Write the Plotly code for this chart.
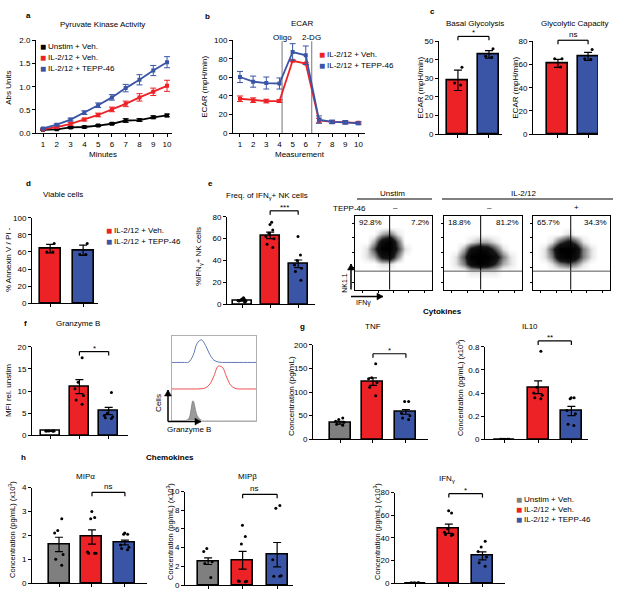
import plotly.graph_objects as go

W, H = 617, 596
RED = '#ec2227'
BLUE = '#3a55a5'
GREY = '#7f7f7f'
FONT = 'Liberation Sans, Arial, sans-serif'
FS = 8

# ---- a: pyruvate kinase activity
minutes = [1, 2, 3, 4, 5, 6, 7, 8, 9, 10]
pk_unstim = [0.07, 0.08, 0.12, 0.13, 0.16, 0.20, 0.27, 0.28, 0.34, 0.38]
pk_unstim_sem = [0.01, 0.01, 0.02, 0.02, 0.02, 0.02, 0.04, 0.03, 0.03, 0.03]
pk_veh = [0.08, 0.13, 0.20, 0.29, 0.39, 0.51, 0.63, 0.77, 0.89, 1.02]
pk_veh_sem = [0.01, 0.02, 0.03, 0.03, 0.04, 0.05, 0.06, 0.08, 0.08, 0.12]
pk_tepp = [0.10, 0.18, 0.29, 0.44, 0.60, 0.77, 0.97, 1.15, 1.35, 1.53]
pk_tepp_sem = [0.01, 0.02, 0.03, 0.04, 0.05, 0.06, 0.08, 0.11, 0.11, 0.12]

# ---- b: ECAR trace
measurement = [1, 2, 3, 4, 5, 6, 7, 8, 9, 10]
ecar_veh = [37, 35.5, 34.5, 34.5, 78, 75, 13.5, 12, 11.5, 11]
ecar_veh_sem = [3, 2.5, 2, 1.5, 1, 1, 2.5, 1.5, 1, 1]
ecar_tepp = [60.5, 55.5, 54, 53.5, 87.5, 84, 14.5, 12, 11.5, 10.5]
ecar_tepp_sem = [6, 6, 6.5, 6, 9, 10, 4, 2, 2, 1.5]
injections = [4.2, 6.45]
injection_names = ['Oligo', '2-DG']

# ---- c: basal glycolysis / glycolytic capacity
basal_mean = [29, 43]
basal_sem = [5.5, 2]
basal_pts = [[36, 26.5, 27.5], [46, 42, 41.5]]
capacity_mean = [61, 67]
capacity_sem = [3.5, 3.5]
capacity_pts = [[65, 58, 65], [73, 65, 64.5]]

# ---- d: viable cells
viable_mean = [64, 62]
viable_sem = [5, 6]
viable_pts = [[70, 60, 60], [70, 57, 57]]

# ---- e: IFNg+ frequency
ifng_freq_mean = [3.5, 63, 37]
ifng_freq_sem = [0.6, 3, 3.5]
ifng_freq_pts = [[2, 3, 3.5, 4, 4.5, 5, 6, 3],
                 [75, 73, 68, 65, 62, 60, 55, 52],
                 [62, 45, 40, 36, 33, 30, 22]]

# ---- e: flow plots (binned density, rows bottom -> top)
flow_unstim = [
    [0, 0, 0, 0, 0, 0, 0, 0, 0, 0],
    [0, 0, 0, 0, 0, 0, 0, 0, 0, 0],
    [0, 0, 0, 0, 0, 0, 0, 0, 0, 0],
    [0, 0, 0, 1, 1, 0, 0, 0, 0, 0],
    [0, 1, 2, 6, 7, 3, 0, 0, 0, 0],
    [0, 1, 4, 9, 9, 5, 1, 0, 0, 0],
    [0, 0, 2, 7, 9, 4, 0, 0, 0, 0],
    [0, 0, 0, 2, 3, 1, 0, 0, 0, 0],
    [0, 0, 0, 0, 0, 0, 0, 0, 0, 0],
    [0, 0, 0, 0, 0, 0, 0, 0, 0, 0],
]
flow_veh = [
    [0, 0, 0, 0, 0, 0, 0, 0, 0, 0],
    [0, 0, 0, 0, 0, 0, 0, 0, 0, 0],
    [0, 0, 0, 1, 1, 1, 1, 0, 0, 0],
    [0, 1, 3, 7, 9, 8, 5, 2, 1, 0],
    [0, 1, 4, 9, 9, 9, 7, 3, 1, 0],
    [0, 0, 2, 6, 8, 7, 4, 1, 0, 0],
    [0, 0, 0, 1, 2, 2, 1, 0, 0, 0],
    [0, 0, 0, 0, 0, 0, 0, 0, 0, 0],
    [0, 0, 0, 0, 0, 0, 0, 0, 0, 0],
    [0, 0, 0, 0, 0, 0, 0, 0, 0, 0],
]
flow_tepp = [
    [0, 0, 0, 0, 0, 0, 0, 0, 0, 0],
    [0, 0, 0, 0, 0, 0, 0, 0, 0, 0],
    [0, 0, 0, 0, 0, 0, 0, 0, 0, 0],
    [0, 0, 1, 3, 4, 3, 1, 0, 0, 0],
    [0, 1, 3, 8, 9, 7, 3, 1, 0, 0],
    [0, 1, 4, 9, 9, 8, 3, 1, 0, 0],
    [0, 0, 1, 4, 6, 4, 1, 0, 0, 0],
    [0, 0, 0, 0, 1, 0, 0, 0, 0, 0],
    [0, 0, 0, 0, 0, 0, 0, 0, 0, 0],
    [0, 0, 0, 0, 0, 0, 0, 0, 0, 0],
]
flow_pct = [('92.8%', '7.2%'), ('18.8%', '81.2%'), ('65.7%', '34.3%')]
flow_gate_x = [4.0, 4.2, 4.4]
flow_gate_y = 2.0
tepp_signs = ['\u2013', '\u2013', '+']

# ---- f: granzyme B
gzmb_mean = [1, 11, 5.5]
gzmb_sem = [0.1, 1.6, 0.8]
gzmb_pts = [[1, 1, 1, 1, 1, 1], [17.5, 12, 10.5, 9, 8, 7], [9.7, 5, 4.5, 4, 3.8, 4.2]]
gzmb_bins = [0, 0.5, 1, 1.5, 2, 2.5, 3, 3.5, 4, 4.5, 5, 5.5, 6, 6.5, 7, 7.5, 8, 8.5, 9, 9.5, 10]
hist_tepp = [0, 0, 0, 0, 0.02, 0.3, 0.85, 1.0, 0.75, 0.35, 0.1, 0.02, 0, 0, 0, 0, 0, 0, 0, 0, 0]
hist_veh = [0, 0, 0, 0, 0, 0, 0, 0.01, 0.05, 0.2, 0.55, 0.95, 0.9, 0.5, 0.15, 0.03, 0, 0, 0, 0, 0]
hist_unstim = [0, 0, 0, 0, 0.1, 1.0, 0.25, 0.02, 0, 0, 0, 0, 0, 0, 0, 0, 0, 0, 0, 0, 0]

# ---- g: cytokines
tnf_mean = [35, 122, 58]
tnf_sem = [3, 8, 5]
tnf_pts = [[45, 42, 38, 36, 32, 30], [160, 130, 128, 120, 110, 92], [80, 80, 55, 50, 45, 42]]
il10_mean = [0, 0.45, 0.245]
il10_sem = [0, 0.055, 0.04]
il10_pts = [[0, 0, 0, 0, 0, 0, 0], [0.76, 0.45, 0.40, 0.36, 0.35, 0.38],
            [0.36, 0.36, 0.35, 0.22, 0.13, 0.12, 0.25]]

# ---- h: chemokines
mipa_mean = [1.62, 1.93, 1.7]
mipa_sem = [0.3, 0.3, 0.1]
mipa_pts = [[2.7, 2.2, 2.1, 1.2, 1.0, 0.75], [3.0, 2.75, 2.7, 1.3, 1.25, 1.25, 1.25],
            [2.1, 2.05, 2.05, 1.6, 1.4, 1.45, 1.5]]
mipb_mean = [2.55, 2.65, 3.25]
mipb_sem = [0.35, 0.95, 1.3]
mipb_pts = [[3.9, 3.6, 2.5, 2.3, 0.8], [6.4, 5.2, 4.4, 0.4, 0.35, 0.4, 0.45],
            [8.5, 8.2, 2.7, 0.95, 1.0, 0.95]]
ifng_mean = [0, 48, 24]
ifng_sem = [0, 4, 3.5]
ifng_pts = [[0, 0, 0, 0, 0, 0, 0], [64, 62, 45, 43, 42, 43, 48], [37, 32, 28, 23, 18, 15]]

fig = go.Figure()
layout = dict(width=W, height=H, margin=dict(l=0, r=0, t=0, b=0),
              paper_bgcolor='white', plot_bgcolor='white',
              font=dict(family=FONT, size=FS, color='black'), showlegend=False)
annotations = []
shapes = []
PANELS = {}

AX = dict(showline=True, linecolor='black', linewidth=1, ticks='outside', ticklen=3,
          tickwidth=1, tickcolor='black', showgrid=False, zeroline=False,
          tickfont=dict(size=FS, color='black'))


def names(n):
    s = '' if n == 1 else str(n)
    return 'x' + s, 'y' + s


def setup(n, box, xr, yr, xopt=None, yopt=None):
    l, r, t, b = box
    xa, ya = names(n)
    xd = dict(AX, domain=[l / W, r / W], range=xr, anchor=ya)
    yd = dict(AX, domain=[1 - b / H, 1 - t / H], range=yr, anchor=xa)
    xd.update(xopt or {})
    yd.update(yopt or {})
    layout['xaxis' + xa[1:]] = xd
    layout['yaxis' + ya[1:]] = yd
    PANELS[n] = (xr, yr, box)


def dx(n, v):
    xr = PANELS[n][0]
    return (v - xr[0]) / (xr[1] - xr[0])


def dy(n, v):
    yr = PANELS[n][1]
    return (v - yr[0]) / (yr[1] - yr[0])


def dom_ref(n):
    xa, ya = names(n)
    return xa + ' domain', ya + ' domain'


def text(x, y, s, size=FS, bold=False, angle=0, anchor='center', color='black'):
    if bold:
        s = '<b>' + s + '</b>'
    annotations.append(dict(x=x / W, y=1 - y / H, xref='paper', yref='paper', text=s,
                            showarrow=False, textangle=angle, xanchor=anchor, yanchor='middle',
                            font=dict(size=size, color=color, family=FONT)))


def hline_px(x0, x1, y, color='black', width=1):
    shapes.append(dict(type='line', xref='paper', yref='paper', x0=x0 / W, x1=x1 / W,
                       y0=1 - y / H, y1=1 - y / H, line=dict(color=color, width=width)))


def legend_item(x, y, color, label):
    text(x, y, '\u25A0', size=10, anchor='left', color=color)
    text(x + 8, y, label, size=FS, anchor='left')


def arrow_px(x0, y0, x1, y1):
    # shaft plus a small filled head, in page pixels
    shapes.append(dict(type='line', xref='paper', yref='paper', x0=x0 / W, y0=1 - y0 / H,
                       x1=x1 / W, y1=1 - y1 / H, line=dict(color='black', width=1.5)))
    if x0 == x1:
        s = -1 if y1 < y0 else 1
        pts = [(x1 - 3.5, y1 - s * 6), (x1 + 3.5, y1 - s * 6), (x1, y1)]
    else:
        s = 1 if x1 > x0 else -1
        pts = [(x1 - s * 6, y1 - 3.5), (x1 - s * 6, y1 + 3.5), (x1, y1)]
    path = 'M ' + ' L '.join(f'{px / W},{1 - py / H}' for px, py in pts) + ' Z'
    shapes.append(dict(type='path', xref='paper', yref='paper', path=path,
                       fillcolor='black', line=dict(color='black', width=0.5)))


def bracket(n, i0, i1, level, label, drop_px=4):
    xr_, yr_ = dom_ref(n)
    box = PANELS[n][2]
    drop = drop_px / (box[3] - box[2])
    x0, x1, y = dx(n, i0), dx(n, i1), dy(n, level)
    for seg in [(x0, y - drop, x0, y), (x0, y, x1, y), (x1, y, x1, y - drop)]:
        shapes.append(dict(type='line', xref=xr_, yref=yr_, x0=seg[0], y0=seg[1],
                           x1=seg[2], y1=seg[3], line=dict(color='black', width=1.2)))
    annotations.append(dict(x=(x0 + x1) / 2, y=y, xref=xr_, yref=yr_, text=label,
                            showarrow=False, yanchor='bottom', yshift=-3 if '*' in label else -1,
                            font=dict(size=FS, color='black')))


def bar_panel(n, means, sems, fills, pts, bar_px=21):
    xa, ya = names(n)
    xr, yr, box = PANELS[n]
    unit = (box[1] - box[0]) / (xr[1] - xr[0])
    xs = list(range(len(means)))
    fig.add_trace(go.Bar(x=xs, y=means, width=bar_px / unit, xaxis=xa, yaxis=ya,
                         marker=dict(color=fills, line=dict(color='black', width=1.6)),
                         error_y=dict(type='data', array=sems, color='black',
                                      thickness=1.2, width=4)))
    for i, p in enumerate(pts):
        fig.add_trace(go.Box(x=[i] * len(p), y=p, xaxis=xa, yaxis=ya, boxpoints='all',
                             jitter=0.8, pointpos=0, width=13 / unit,
                             fillcolor='rgba(0,0,0,0)',
                             line=dict(color='rgba(0,0,0,0)', width=0),
                             marker=dict(color='black', size=3)))
    layout['xaxis' + xa[1:]].update(tickvals=xs, showticklabels=False)


# ---------------- panel a
setup(1, (36, 172, 37, 131), [0.49, 10.36], [0, 2],
      dict(tickvals=minutes), dict(tickvals=[0, 0.5, 1.0, 1.5, 2.0], tickformat='.1f'))
for ys, es, col in [(pk_unstim, pk_unstim_sem, 'black'), (pk_veh, pk_veh_sem, RED),
                    (pk_tepp, pk_tepp_sem, BLUE)]:
    fig.add_trace(go.Scatter(x=minutes, y=ys, mode='lines+markers', xaxis='x', yaxis='y',
                             line=dict(color=col, width=1.8),
                             marker=dict(color=col, size=4, symbol='square'),
                             error_y=dict(type='data', array=es, color=col, thickness=1, width=3)))
text(28, 12, 'a', bold=True)
text(102, 21, 'Pyruvate Kinase Activity')
text(9, 85, 'Abs Units', angle=-90)
text(103, 153, 'Minutes')
legend_item(38, 43, 'black', 'Unstim + Veh.')
legend_item(38, 54, RED, 'IL-2/12 + Veh.')
legend_item(38, 65, BLUE, 'IL-2/12 + TEPP-46')

# ---------------- panel b
setup(2, (233, 365, 37, 131), [0.47, 10.5], [0, 100],
      dict(tickvals=measurement), dict(tickvals=[0, 20, 40, 60, 80, 100]))
for ys, es, col in [(ecar_veh, ecar_veh_sem, RED), (ecar_tepp, ecar_tepp_sem, BLUE)]:
    fig.add_trace(go.Scatter(x=measurement, y=ys, mode='lines+markers', xaxis='x2', yaxis='y2',
                             line=dict(color=col, width=1.8),
                             marker=dict(color=col, size=4, symbol='square'),
                             error_y=dict(type='data', array=es, color=col, thickness=1, width=3)))
xr2, yr2 = dom_ref(2)
for xv, nm in zip(injections, injection_names):
    shapes.append(dict(type='line', xref=xr2, yref=yr2, x0=dx(2, xv), x1=dx(2, xv), y0=0, y1=0.99,
                       line=dict(color='#8c8c8c', width=1.2), layer='below'))
    annotations.append(dict(x=dx(2, xv), y=1 + 3 / 94, xref=xr2, yref=yr2, text=nm,
                            showarrow=False, yanchor='middle', font=dict(size=FS)))
text(207, 13, 'b', bold=True)
text(302, 20, 'ECAR')
text(205, 84, 'ECAR (mpH/min)', angle=-90)
text(300, 153, 'Measurement')
legend_item(317, 51, RED, 'IL-2/12 + Veh.')
legend_item(317, 62, BLUE, 'IL-2/12 + TEPP-46')

# ---------------- panel c
setup(3, (439, 502, 38, 132), [-0.61, 1.42], [0, 50], None, dict(tickvals=[0, 10, 20, 30, 40, 50]))
bar_panel(3, basal_mean, basal_sem, [RED, BLUE], basal_pts)
bracket(3, 0, 1, 52.7, '*')
setup(4, (533, 598, 38, 132), [-0.83, 1.33], [0, 80], None, dict(tickvals=[0, 20, 40, 60, 80]))
bar_panel(4, capacity_mean, capacity_sem, [RED, BLUE], capacity_pts)
bracket(4, 0, 1, 81, 'ns')
text(432, 8, 'c', bold=True)
text(475, 20, 'Basal Glycolysis')
text(575, 20, 'Glycolytic Capacity')
text(421, 85, 'ECAR (mpH/min)', angle=-90)
text(516, 85, 'ECAR (mpH/min)', angle=-90)

# ---------------- panel d
setup(5, (32, 98, 217, 304), [-0.55, 1.45], [0, 100], None,
      dict(tickvals=[0, 20, 40, 60, 80, 100]))
bar_panel(5, viable_mean, viable_sem, [RED, BLUE], viable_pts)
text(28, 182, 'd', bold=True)
text(63, 193, 'Viable cells')
text(8, 260, '% Annexin V / PI -', angle=-90)
legend_item(104, 230, RED, 'IL-2/12 + Veh.')
legend_item(104, 241, BLUE, 'IL-2/12 + TEPP-46')

# ---------------- panel e
setup(6, (227, 315, 216, 305), [-0.54, 2.6], [0, 80], None, dict(tickvals=[0, 20, 40, 60, 80]))
bar_panel(6, ifng_freq_mean, ifng_freq_sem, ['white', RED, BLUE], ifng_freq_pts, bar_px=19)
bracket(6, 1, 2, 85.4, '***')
text(210, 182, 'e', bold=True)
text(267, 195, 'Freq. of IFN<sub>\u03b3</sub>+ NK cells')
text(199, 257, '%IFN<sub>\u03b3</sub>+ NK cells', angle=-90)

flow_boxes = [(355, 432, 215, 290), (444, 522, 215, 290), (533, 610, 215, 290)]
grid = list(range(10))
for k, (dens, fbox) in enumerate(zip([flow_unstim, flow_veh, flow_tepp], flow_boxes)):
    n = 7 + k
    xa, ya = names(n)
    setup(n, fbox, [-0.5, 9.5], [-0.5, 9.5],
          dict(mirror=True, tickvals=[0.5, 2.5, 4.5, 6.5, 8.5], showticklabels=False, ticklen=2),
          dict(mirror=True, tickvals=[0.5, 2.5, 4.5, 6.5, 8.5], showticklabels=False, ticklen=2))
    fig.add_trace(go.Heatmap(z=dens, x=grid, y=grid, xaxis=xa, yaxis=ya, zmin=0, zmax=9,
                             zsmooth='best', showscale=False,
                             colorscale=[[0, 'white'], [0.08, '#ececec'], [0.3, '#8a8a8a'],
                                         [0.6, '#161616'], [1, 'black']]))
    xrf, yrf = dom_ref(n)
    gx, gy = dx(n, flow_gate_x[k]), dy(n, flow_gate_y)
    shapes.append(dict(type='line', xref=xrf, yref=yrf, x0=gx, x1=gx, y0=0, y1=1,
                       line=dict(color='black', width=1)))
    shapes.append(dict(type='line', xref=xrf, yref=yrf, x0=0, x1=1, y0=gy, y1=gy,
                       line=dict(color='#555555', width=1)))
    annotations.append(dict(x=0.02, y=0.99, xref=xrf, yref=yrf, text=flow_pct[k][0],
                            showarrow=False, xanchor='left', yanchor='top', font=dict(size=FS)))
    annotations.append(dict(x=0.99, y=0.99, xref=xrf, yref=yrf, text=flow_pct[k][1],
                            showarrow=False, xanchor='right', yanchor='top', font=dict(size=FS)))
    text((fbox[0] + fbox[1]) / 2 + [2, 6, 5][k], 207, tepp_signs[k])
text(392, 192, 'Unstim')
hline_px(357, 432, 198)
text(523, 192, 'IL-2/12')
hline_px(442, 613, 198)
text(349, 208, 'TEPP-46')
arrow_px(351, 290, 351, 264)
arrow_px(351, 297, 383, 297)
text(345, 283, 'NK1.1', size=7, angle=-90)
text(363, 304, 'IFN\u03b3', size=7)

# ---------------- panel f
setup(10, (32, 128, 348, 438), [-0.62, 2.66], [0, 20], None, dict(tickvals=[0, 5, 10, 15, 20]))
bar_panel(10, gzmb_mean, gzmb_sem, ['white', RED, BLUE], gzmb_pts, bar_px=19)
bracket(10, 1, 2, 18.9, '*')
text(25, 324, 'f', bold=True)
text(78, 324, 'Granzyme B')
text(8, 393, 'MFI rel. unstim', angle=-90)

setup(11, (172, 256, 337, 423), [0, 10], [0, 3],
      dict(mirror=True, linecolor='#b0b0b0', ticks='', showticklabels=False),
      dict(mirror=True, linecolor='#b0b0b0', ticks='', showticklabels=False))
lanes = [(hist_tepp, 2.06, 0.8, BLUE), (hist_veh, 1.12, 0.85, RED)]
for h, base, scale, col in lanes:
    fig.add_trace(go.Scatter(x=gzmb_bins, y=[base + scale * v for v in h], mode='lines',
                             xaxis='x11', yaxis='y11', line=dict(color=col, width=0.8, shape='spline')))
fig.add_trace(go.Scatter(x=gzmb_bins, y=[0.7 * v for v in hist_unstim], mode='lines',
                         xaxis='x11', yaxis='y11', fill='tozeroy', fillcolor='#9a9a9a',
                         line=dict(color='#808080', width=0.8, shape='spline')))
arrow_px(168, 424, 168, 392)
arrow_px(168, 424, 201, 424)
text(159, 405, 'Cells', angle=-90)
text(189, 432, 'Granzyme B')

# ---------------- panel g
setup(12, (313, 428, 346, 442), [-0.82, 2.67], [0, 200], None,
      dict(tickvals=[0, 50, 100, 150, 200]))
bar_panel(12, tnf_mean, tnf_sem, [GREY, RED, BLUE], tnf_pts)
bracket(12, 1, 2, 181, '*')
setup(13, (485, 588, 348, 442), [-0.6, 2.5], [0, 0.8], None,
      dict(tickvals=[0, 0.2, 0.4, 0.6, 0.8], ticktext=['0', '0.2', '0.4', '0.6', '0.8']))
bar_panel(13, il10_mean, il10_sem, [GREY, RED, BLUE], il10_pts)
bracket(13, 1, 2, 0.85, '**')
text(302, 327, 'g', bold=True)
text(442, 312, 'Cytokines', bold=True)
text(373, 327, 'TNF')
text(530, 327, 'IL10')
text(292, 398, 'Concentration (pg/mL)', angle=-90)
text(460, 390, 'Concentration (pg/mL) (x10<sup>3</sup>)', size=7.5, angle=-90)

# ---------------- panel h
setup(14, (32, 147, 491, 588), [-0.82, 2.67], [0, 4], None, dict(tickvals=[0, 1, 2, 3, 4]))
bar_panel(14, mipa_mean, mipa_sem, [GREY, RED, BLUE], mipa_pts)
bracket(14, 1, 2, 3.8, 'ns')
setup(15, (185, 293, 495, 590), [-0.67, 2.46], [0, 10], None,
      dict(tickvals=[0, 2, 4, 6, 8, 10]))
bar_panel(15, mipb_mean, mipb_sem, [GREY, RED, BLUE], mipb_pts)
bracket(15, 1, 2, 9.7, 'ns')
setup(16, (395, 505, 496, 588), [-0.6, 2.67], [0, 80], None, dict(tickvals=[0, 20, 40, 60, 80]))
bar_panel(16, ifng_mean, ifng_sem, [GREY, RED, BLUE], ifng_pts)
bracket(16, 1, 2, 79, '*')
text(23, 460, 'h', bold=True)
text(170, 460, 'Chemokines', bold=True)
text(85, 480, 'MIP\u03b1')
text(247, 480, 'MIP\u03b2')
text(447, 482, 'IFN<sub>\u03b3</sub>')
conc_k = 'Concentration (pg/mL) (x10<sup>3</sup>)'
text(12, 534, conc_k, size=7.5, angle=-90)
text(170, 536, conc_k, size=7.5, angle=-90)
text(377, 536, conc_k, size=7.5, angle=-90)
legend_item(514, 503, GREY, 'Unstim + Veh.')
legend_item(514, 513, RED, 'IL-2/12 + Veh.')
legend_item(514, 523, BLUE, 'IL-2/12 + TEPP-46')

layout['annotations'] = annotations
layout['shapes'] = shapes
layout['bargap'] = 0
fig.update_layout(**layout)
fig.write_html("out.html", config={'displayModeBar': False},
               post_script="document.body.style.margin='0';")
